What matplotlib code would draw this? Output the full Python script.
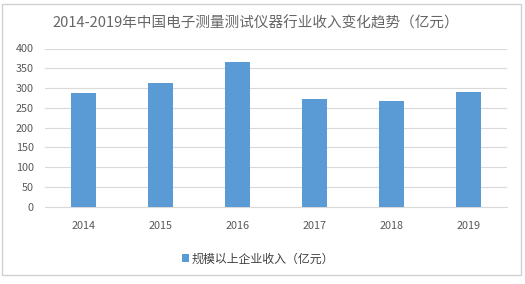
import matplotlib.pyplot as plt
from matplotlib.patches import Rectangle

plt.rcParams['font.family'] = ['Noto Sans CJK SC', 'DejaVu Sans']

years = ['2014', '2015', '2016', '2017', '2018', '2019']
revenue = [288, 313, 366, 273, 268, 291]
series_name = '规模以上企业收入（亿元）'
title = '2014-2019年中国电子测量测试仪器行业收入变化趋势（亿元）'
y_ticks = [0, 50, 100, 150, 200, 250, 300, 350, 400]

W, H = 525, 284
fig = plt.figure(figsize=(W / 100, H / 100), dpi=100)
fig.patch.set_facecolor('white')

# chart border
fig.patches.append(Rectangle((1.5 / W, 1 - 275 / H), (521 - 1.5) / W, (275 - 3.5) / H,
                             transform=fig.transFigure, fill=False,
                             edgecolor='#d0d0d0', linewidth=1))

ax = fig.add_axes([45 / W, 1 - 206.7 / H, 462 / W, (206.7 - 48.5) / H])
x = range(len(years))
ax.bar(x, revenue, width=0.33, color='#5b9bd5', zorder=3, label=series_name)
ax.set_xlim(-0.5, len(years) - 0.5)
ax.set_ylim(0, 400)
ax.set_yticks(y_ticks)
ax.set_xticks(list(x))
ax.set_xticklabels(years)
ax.grid(axis='y', color='#d9d9d9', linewidth=0.8, zorder=0)
for s in ['top', 'right', 'left']:
    ax.spines[s].set_visible(False)
ax.spines['bottom'].set_color('#d9d9d9')
ax.tick_params(axis='both', length=0, labelsize=7.8, colors='#595959')
ax.tick_params(axis='x', pad=10)
ax.tick_params(axis='y', pad=8)

fig.text(0.487, 1 - 23 / H, title, ha='center', va='center', fontsize=10.5, color='#666666')

leg = ax.legend(loc='center', bbox_to_anchor=((258 - 45) / 462, (206.7 - 259) / (206.7 - 48.5)),
                frameon=False, fontsize=8.6, handlelength=0.6, handleheight=0.6,
                handletextpad=0.2, labelcolor='#404040')

fig.savefig('out.png', dpi=100)
